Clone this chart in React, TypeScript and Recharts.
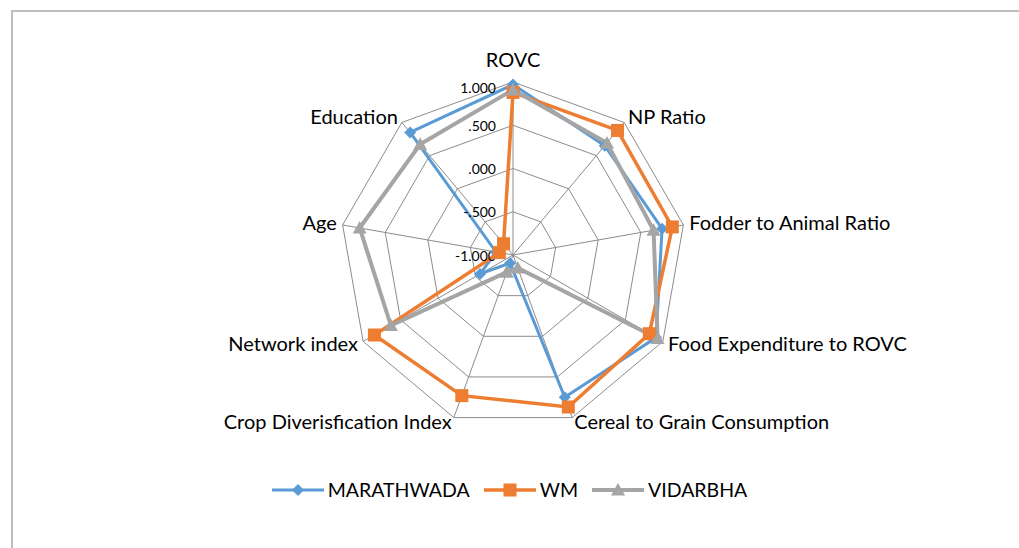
import React from 'react';
import {
    RadarChart,
    Radar,
    PolarGrid,
    PolarAngleAxis,
    PolarRadiusAxis,
    Legend,
} from 'recharts';

const categories = [
    'ROVC',
    'NP Ratio',
    'Fodder to Animal Ratio',
    'Food Expenditure to ROVC',
    'Cereal to Grain Consumption',
    'Crop Diverisfication Index',
    'Network index',
    'Age',
    'Education',
];

const marathwada = [0.97, 0.65, 0.75, 0.91, 0.75, -0.9, -0.56, -0.8, 0.85];
const wm = [0.88, 0.88, 0.87, 0.82, 0.87, 0.73, 0.85, -0.84, -0.83];
const vidarbha = [0.91, 0.69, 0.65, 0.93, -0.84, -0.79, 0.63, 0.8, 0.67];

const radiusDomain = [-1, 1];
const radiusTicks = [-1, -0.5, 0, 0.5, 1];

const BLUE = '#5B9BD5';
const ORANGE = '#ED7D31';
const GRAY = '#A5A5A5';
const FONT = 'Lato, "Open Sans", sans-serif';

const data = categories.map((axis, i) => ({
    axis,
    marathwada: marathwada[i],
    wm: wm[i],
    vidarbha: vidarbha[i],
}));

// number format like Excel's "#.000"
const fmt = (v: number) => {
    const s = Math.abs(v).toFixed(3).replace(/^0/, '');
    return v < 0 ? `-${s}` : s;
};

const Diamond = ({ cx, cy, size = 6, color }: any) => (
    <path d={`M${cx},${cy - size}L${cx + size},${cy}L${cx},${cy + size}L${cx - size},${cy}Z`} fill={color} />
);
const Square = ({ cx, cy, size = 6.5, color }: any) => (
    <rect x={cx - size} y={cy - size} width={size * 2} height={size * 2} fill={color} />
);
const Triangle = ({ cx, cy, size = 7, color }: any) => (
    <path d={`M${cx},${cy - size}L${cx + size},${cy + size * 0.8}L${cx - size},${cy + size * 0.8}Z`} fill={color} />
);

const AngleTick = ({ x, y, textAnchor, payload }: any) => {
    const top = textAnchor === 'middle' && Math.sin((payload.coordinate * Math.PI) / 180) > 0;
    return (
        <text
            x={x}
            y={top ? y - 17 : y - 2}
            textAnchor={textAnchor}
            dominantBaseline="central"
            fontFamily={FONT}
            fontSize={20}
            fill="#000"
        >
            {payload.value}
        </text>
    );
};

const RadiusTick = ({ x, y, payload }: any) => (
    <text
        x={x - 17}
        y={y + (payload.value === 1 ? 5 : 0)}
        textAnchor="end"
        dominantBaseline="central"
        fontFamily={FONT}
        fontSize={14}
        fill="#000"
    >
        {fmt(payload.value)}
    </text>
);

const legendItems = [
    { name: 'MARATHWADA', color: BLUE, Marker: Diamond, size: 6, width: 3 },
    { name: 'WM', color: ORANGE, Marker: Square, size: 6.5, width: 3.5 },
    { name: 'VIDARBHA', color: GRAY, Marker: Triangle, size: 7, width: 4 },
];

const renderLegend = () => (
    <div style={{ display: 'flex', justifyContent: 'center', alignItems: 'center', gap: 14, fontFamily: FONT, fontSize: 19.5 }}>
        {legendItems.map(({ name, color, Marker, size, width }) => (
            <div key={name} style={{ display: 'flex', alignItems: 'center' }}>
                <svg width={52} height={18}>
                    <line x1={0} y1={9} x2={52} y2={9} stroke={color} strokeWidth={width} />
                    <Marker cx={26} cy={9} size={size} color={color} />
                </svg>
                <span style={{ marginLeft: 4 }}>{name}</span>
            </div>
        ))}
    </div>
);

export default function App() {
    return (
        <div style={{ position: 'fixed', left: 0, top: 0, width: 1019, height: 548, overflow: 'hidden', background: '#fff' }}>
            <div
                style={{
                    position: 'absolute',
                    left: 11,
                    top: 10,
                    width: 1100,
                    height: 600,
                    border: '2px solid #BDBDBD',
                }}
            />
            <div style={{ position: 'absolute', left: 0, top: 0 }}>
                <RadarChart width={1019} height={548} data={data} cx={513} cy={255} outerRadius={173}>
                    <PolarGrid gridType="polygon" stroke="#8C8C8C" strokeWidth={1} />
                    <PolarAngleAxis dataKey="axis" tick={<AngleTick />} tickLine={false} tickSize={6} axisLine={false} />
                    <PolarRadiusAxis
                        angle={90}
                        domain={radiusDomain}
                        ticks={radiusTicks as any}
                        tickCount={5}
                        tick={<RadiusTick />}
                        axisLine={false}
                    />
                    <Radar
                        name="MARATHWADA"
                        dataKey="marathwada"
                        stroke={BLUE}
                        strokeWidth={3}
                        fillOpacity={0}
                        dot={(p: any) => <Diamond key={`m${p.index}`} cx={p.cx} cy={p.cy} size={6} color={BLUE} />}
                        isAnimationActive={false}
                    />
                    <Radar
                        name="WM"
                        dataKey="wm"
                        stroke={ORANGE}
                        strokeWidth={3.5}
                        fillOpacity={0}
                        dot={(p: any) => <Square key={`w${p.index}`} cx={p.cx} cy={p.cy} size={6.5} color={ORANGE} />}
                        isAnimationActive={false}
                    />
                    <Radar
                        name="VIDARBHA"
                        dataKey="vidarbha"
                        stroke={GRAY}
                        strokeWidth={4}
                        fillOpacity={0}
                        dot={(p: any) => <Triangle key={`v${p.index}`} cx={p.cx} cy={p.cy} size={7} color={GRAY} />}
                        isAnimationActive={false}
                    />
                    <Legend
                        content={renderLegend}
                        wrapperStyle={{ position: 'absolute', left: 0, top: 478, width: 1019 }}
                    />
                </RadarChart>
            </div>
        </div>
    );
}
